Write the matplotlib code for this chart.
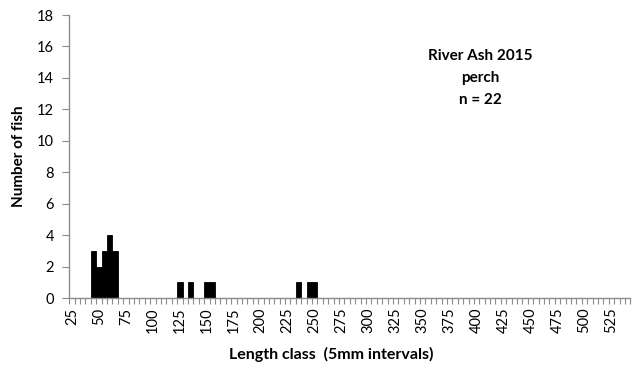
import matplotlib
matplotlib.use("Agg")
import matplotlib.pyplot as plt
import numpy as np

plt.rcParams['font.family'] = ['Lato', 'DejaVu Sans']

# Length classes (mm, 5 mm intervals) and fish counts per class
length_classes = list(range(25, 545, 5))
counts_by_class = {45: 3, 50: 2, 55: 3, 60: 4, 65: 3,
                   125: 1, 135: 1, 150: 1, 155: 1,
                   235: 1, 245: 1, 250: 1}
counts = [counts_by_class.get(c, 0) for c in length_classes]
label_classes = list(range(25, 530, 25))
y_ticks = list(range(0, 19, 2))

fig = plt.figure(figsize=(6.4, 3.68), dpi=100)
ax = fig.add_axes([0.1083, 0.1902, 0.8766, 0.769])

x = np.arange(len(length_classes))
ax.bar(x, counts, width=1.0, color='black', edgecolor='black', linewidth=0.6)

ax.set_xlim(-0.5, len(length_classes) - 0.5)
ax.set_ylim(0, 18)

grey = '#8c8c8c'
for side in ('top', 'right'):
    ax.spines[side].set_visible(False)
for side in ('left', 'bottom'):
    ax.spines[side].set_color(grey)
    ax.spines[side].set_linewidth(1.0)

# category boundary ticks on the x axis, labels every fifth class
ax.set_xticks(np.arange(len(length_classes) + 1) - 0.5, minor=True)
ax.set_xticks([length_classes.index(c) for c in label_classes])
ax.set_xticklabels([str(c) for c in label_classes], rotation=90, fontsize=10.5)
ax.tick_params(axis='x', which='major', length=0, pad=7)
ax.tick_params(axis='x', which='minor', length=4, width=0.8, color=grey)

ax.set_yticks(y_ticks)
ax.set_yticklabels([str(v) for v in y_ticks], fontsize=10.5)
ax.tick_params(axis='y', length=5, width=0.8, color=grey, pad=6)

ax.set_ylabel('Number of fish', fontsize=11, fontweight='bold', labelpad=8)
fig.text(331 / 640, 1 - 354 / 368, 'Length class  (5mm intervals)',
         ha='center', va='center', fontsize=11.5, fontweight='bold')

ax.text(480 / 640, 1 - 49 / 368, 'River Ash 2015\nperch\nn = 22',
        transform=fig.transFigure, ha='center', va='top',
        fontsize=11, fontweight='bold', linespacing=1.75)

fig.savefig('out.png', dpi=100)
